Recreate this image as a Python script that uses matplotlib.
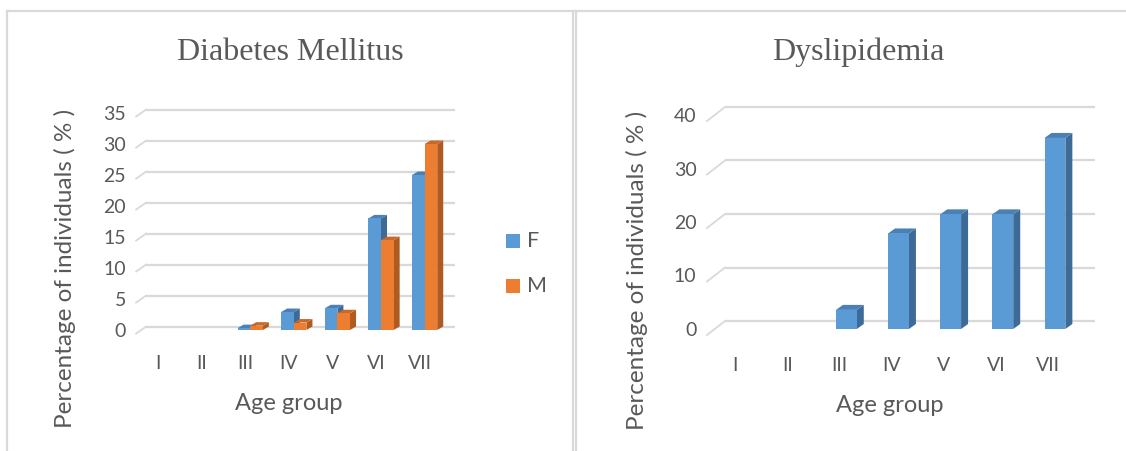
import matplotlib
matplotlib.use('Agg')
import matplotlib.pyplot as plt
from matplotlib.patches import Polygon, Rectangle
from matplotlib.lines import Line2D
import numpy as np

# percentage of individuals per age group
age_groups = ['I', 'II', 'III', 'IV', 'V', 'VI', 'VII']
dm_female = [0, 0, 0.3, 2.9, 3.5, 18, 25]
dm_male = [0, 0, 0.7, 1.2, 2.7, 14.5, 30]
dys_female = [0, 0, 3.57, 17.86, 21.43, 21.43, 35.71]
dm_ticks = [0, 5, 10, 15, 20, 25, 30, 35]
dys_ticks = [0, 10, 20, 30, 40]

W, H = 1126, 451
TXT = '#595959'
GRID = '#d9d9d9'
FONT = 'Lato'
BLUE = ('#5b9bd5', '#3d6a96', '#4a80b5')     # front, side, top
ORANGE = ('#ed7d31', '#ae5a21', '#c8692a')

fig = plt.figure(figsize=(W / 100, H / 100), dpi=100)


def px_axes(x0, y0, x1, y1):
    # axes box from pixel coords (origin top-left)
    return fig.add_axes([x0 / W, 1 - y1 / H, (x1 - x0) / W, (y1 - y0) / H])


def px2data(ax, dx, dy):
    x0, x1 = ax.get_xlim()
    y0, y1 = ax.get_ylim()
    bb = ax.get_position()
    return dx * (x1 - x0) / (bb.width * W), dy * (y1 - y0) / (bb.height * H)


def bar3d(ax, xs, hs, width, colors, depth):
    ddx, ddy = px2data(ax, *depth)
    front, side, top = colors
    for x, h in zip(xs, hs):
        if h <= 0:
            continue
        l, r = x - width / 2, x + width / 2
        ax.add_patch(Polygon([(r, 0), (r + ddx, ddy), (r + ddx, h + ddy), (r, h)],
                             closed=True, fc=side, ec='none', zorder=3, clip_on=False))
        ax.add_patch(Polygon([(l, h), (r, h), (r + ddx, h + ddy), (l + ddx, h + ddy)],
                             closed=True, fc=top, ec='none', zorder=3, clip_on=False))
        ax.bar(x, h, width, color=front, zorder=4, clip_on=False)


def floor_grid(ax, ticks, back, front, right_px):
    bx, by = px2data(ax, *back)
    fx, fy = px2data(ax, *front)
    xl, xr = ax.get_xlim()
    ext, _ = px2data(ax, right_px, 0)
    for v in ticks:
        ax.plot([xl + bx, xr + ext], [v + by, v + by], color=GRID, lw=1.6,
                zorder=1, clip_on=False, solid_capstyle='butt')
        ax.plot([xl + fx, xl + bx], [v + fy, v + by], color=GRID, lw=1.3,
                zorder=1, clip_on=False)


def setup(ax, ticks, ymax, label_shift_px, ypad, xpad):
    ax.set_xlim(-0.5, len(age_groups) - 0.5)
    ax.set_ylim(0, ymax)
    for s in ax.spines.values():
        s.set_visible(False)
    sx, _ = px2data(ax, label_shift_px, 0)
    ax.set_xticks(np.arange(len(age_groups)) - sx)
    ax.set_xticklabels(age_groups)
    ax.set_yticks(ticks)
    ax.tick_params(length=0, labelsize=14, labelcolor=TXT)
    ax.tick_params(axis='y', pad=ypad)
    ax.tick_params(axis='x', pad=xpad)
    for lab in ax.get_xticklabels() + ax.get_yticklabels():
        lab.set_fontfamily(FONT)
    ax.patch.set_alpha(0)


# ---- Diabetes Mellitus ----
ax1 = px_axes(141.2, 113, 446.4, 330)
setup(ax1, dm_ticks, 35, 5, 11, 18)
floor_grid(ax1, dm_ticks, (5, 3.5), (-5, -3.5), 9)
x = np.arange(len(age_groups))
bw = 0.29
bar3d(ax1, x - bw / 2, dm_female, bw, BLUE, (6, 3.5))
bar3d(ax1, x + bw / 2, dm_male, bw, ORANGE, (6, 3.5))

# ---- Dyslipidemia ----
ax2 = px_axes(716, 115, 1081, 329)
setup(ax2, dys_ticks, 40, 7, 14, 20)
floor_grid(ax2, dys_ticks, (9, 8), (-9, -6), 14)
bar3d(ax2, x, dys_female, 0.4, BLUE, (7, 5))

# titles and axis labels
for cx, title in [(290, 'Diabetes Mellitus'), (858, 'Dyslipidemia')]:
    fig.text(cx / W, 1 - 52 / H, title, ha='center', va='center',
             fontsize=23, color=TXT, family='Liberation Serif')
for cx, cy in [(289, 403), (890, 405)]:
    fig.text(cx / W, 1 - cy / H, 'Age group', ha='center', va='center',
             fontsize=17, color=TXT, family=FONT)
for cx, cy in [(65, 268), (637, 270)]:
    fig.text(cx / W, 1 - cy / H, 'Percentage of individuals ( % )', ha='center',
             va='center', rotation=90, fontsize=17.5, color=TXT, family=FONT)

# legend
for cy, name, col in [(241, 'F', BLUE[0]), (286, 'M', ORANGE[0])]:
    fig.patches.append(Rectangle((506 / W, 1 - (cy + 7) / H), 14 / W, 14 / H,
                                 transform=fig.transFigure, fc=col, ec='none'))
    fig.text(527 / W, 1 - cy / H, name, ha='left', va='center', fontsize=15.5,
             color=TXT, family=FONT)

# chart frames
frame = dict(color=GRID, lw=1.6, transform=fig.transFigure)
fig.lines.append(Line2D([7 / W, 1], [1 - 10.5 / H] * 2, **frame))
for px in (7, 572.5, 575.5):
    fig.lines.append(Line2D([px / W] * 2, [0, 1 - 10.5 / H], **frame))

fig.savefig('out.png', dpi=100)
